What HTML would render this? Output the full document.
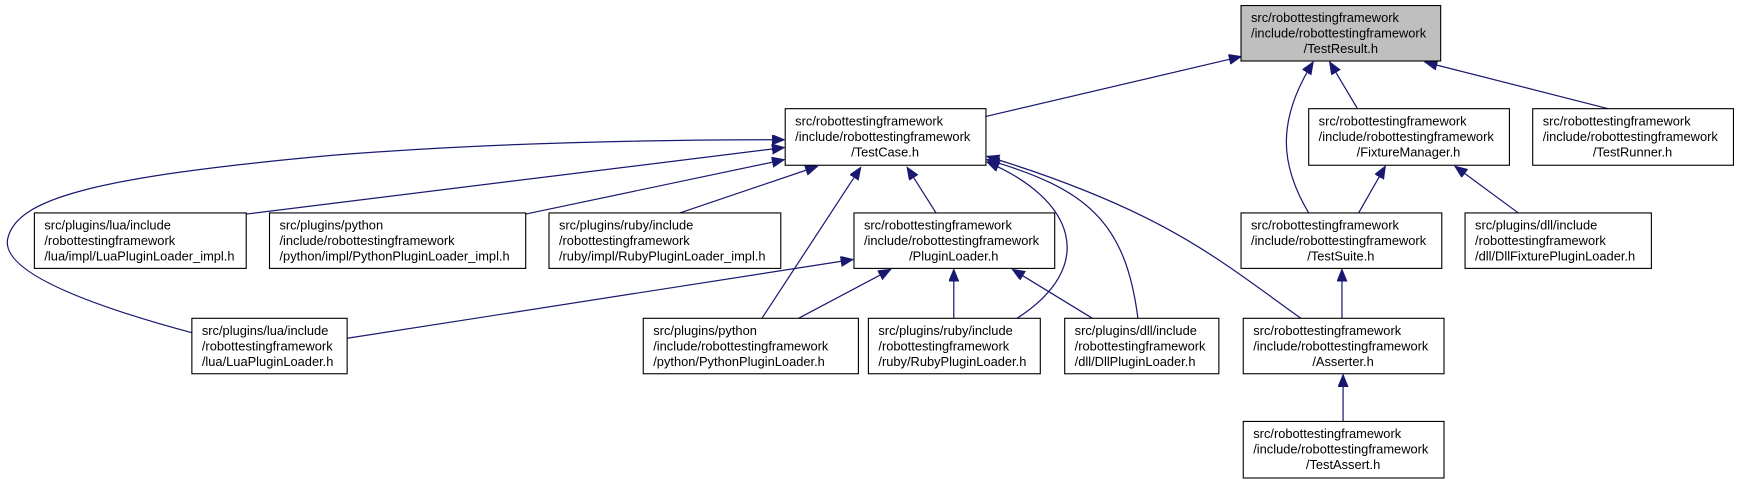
<!DOCTYPE html>
<html><head><meta charset="utf-8"><style>
html,body{margin:0;padding:0;background:#fff;}
svg{display:block;}
text{font-family:"Liberation Sans",sans-serif;font-size:11.6px;fill:#000;}
</style></head><body>
<svg width="1739" height="483" viewBox="0 0 1568 435.5" preserveAspectRatio="none" xmlns="http://www.w3.org/2000/svg">
<defs>
<marker id="a" markerUnits="userSpaceOnUse" markerWidth="12" markerHeight="10" refX="11" refY="4.5" orient="auto">
<path d="M0,0 L11,4.5 L0,9 z" fill="#191970" stroke="#191970" stroke-width="1"/>
</marker>
</defs>
<g fill="none" stroke="#191970" stroke-width="1.1" marker-end="url(#a)">
<path d="M889,105 L1119,51"/>
<path d="M1180,192 C1155,150 1150,110 1184,56"/>
<path d="M1224,98 L1199,56"/>
<path d="M1450,98 L1285,56"/>
<path d="M173,300 C80,275 0,245 7,215 C15,180 80,160 300,140 C450,128 600,126 707,126"/>
<path d="M222,193 L707,133"/>
<path d="M474,193 L707,144"/>
<path d="M610,193 L737,150"/>
<path d="M844,192 L818,151"/>
<path d="M687,287 L776,151"/>
<path d="M917,287 C990,240 970,180 890,146"/>
<path d="M1026,287 C1015,200 980,170 890,144"/>
<path d="M1173,287 C1100,235 1050,190 890,141"/>
<path d="M720,287 L803,243"/>
<path d="M860,287 L860,243"/>
<path d="M985,287 L913,243"/>
<path d="M313,305 L769,234"/>
<path d="M1225,192 L1249,150"/>
<path d="M1369,192 L1312,150"/>
<path d="M1210,287 L1210,243"/>
<path d="M1211,380 L1211,338"/>
</g>
<g stroke="#000" stroke-width="1" fill="#fff">
<rect x="1119" y="5" width="180" height="50" fill="#bfbfbf"/>
<rect x="708" y="98" width="181" height="51"/>
<rect x="1180" y="98" width="181" height="51"/>
<rect x="1382" y="98" width="181" height="51"/>
<rect x="31" y="192" width="191" height="50"/>
<rect x="243" y="192" width="231" height="50"/>
<rect x="495" y="192" width="209" height="50"/>
<rect x="770" y="192" width="181" height="50"/>
<rect x="1119" y="192" width="181" height="50"/>
<rect x="1321" y="192" width="168" height="50"/>
<rect x="173" y="287" width="140" height="50"/>
<rect x="580" y="287" width="194" height="50"/>
<rect x="783" y="287" width="155" height="50"/>
<rect x="960" y="287" width="139" height="50"/>
<rect x="1121" y="287" width="181" height="50"/>
<rect x="1121" y="380" width="181" height="51"/>
</g>
<g>
<text x="1128" y="20">src/robottestingframework</text><text x="1128" y="34">/include/robottestingframework</text><text x="1209" y="48" text-anchor="middle">/TestResult.h</text>
<text x="717" y="113">src/robottestingframework</text><text x="717" y="127">/include/robottestingframework</text><text x="798" y="141" text-anchor="middle">/TestCase.h</text>
<text x="1189" y="113">src/robottestingframework</text><text x="1189" y="127">/include/robottestingframework</text><text x="1270" y="141" text-anchor="middle">/FixtureManager.h</text>
<text x="1391" y="113">src/robottestingframework</text><text x="1391" y="127">/include/robottestingframework</text><text x="1472" y="141" text-anchor="middle">/TestRunner.h</text>
<text x="40" y="207">src/plugins/lua/include</text><text x="40" y="221">/robottestingframework</text><text x="40" y="235">/lua/impl/LuaPluginLoader_impl.h</text>
<text x="252" y="207">src/plugins/python</text><text x="252" y="221">/include/robottestingframework</text><text x="252" y="235">/python/impl/PythonPluginLoader_impl.h</text>
<text x="504" y="207">src/plugins/ruby/include</text><text x="504" y="221">/robottestingframework</text><text x="504" y="235">/ruby/impl/RubyPluginLoader_impl.h</text>
<text x="779" y="207">src/robottestingframework</text><text x="779" y="221">/include/robottestingframework</text><text x="860" y="235" text-anchor="middle">/PluginLoader.h</text>
<text x="1128" y="207">src/robottestingframework</text><text x="1128" y="221">/include/robottestingframework</text><text x="1209" y="235" text-anchor="middle">/TestSuite.h</text>
<text x="1330" y="207">src/plugins/dll/include</text><text x="1330" y="221">/robottestingframework</text><text x="1330" y="235">/dll/DllFixturePluginLoader.h</text>
<text x="182" y="302">src/plugins/lua/include</text><text x="182" y="316">/robottestingframework</text><text x="182" y="330">/lua/LuaPluginLoader.h</text>
<text x="589" y="302">src/plugins/python</text><text x="589" y="316">/include/robottestingframework</text><text x="589" y="330">/python/PythonPluginLoader.h</text>
<text x="792" y="302">src/plugins/ruby/include</text><text x="792" y="316">/robottestingframework</text><text x="792" y="330">/ruby/RubyPluginLoader.h</text>
<text x="969" y="302">src/plugins/dll/include</text><text x="969" y="316">/robottestingframework</text><text x="969" y="330">/dll/DllPluginLoader.h</text>
<text x="1130" y="302">src/robottestingframework</text><text x="1130" y="316">/include/robottestingframework</text><text x="1211" y="330" text-anchor="middle">/Asserter.h</text>
<text x="1130" y="395">src/robottestingframework</text><text x="1130" y="409">/include/robottestingframework</text><text x="1211" y="423" text-anchor="middle">/TestAssert.h</text>
</g>
</svg>
</body></html>
